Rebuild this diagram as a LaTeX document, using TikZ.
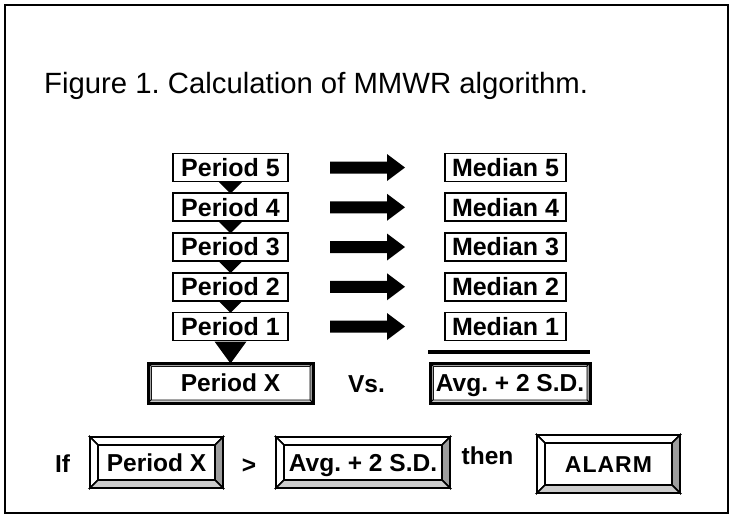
\documentclass[tikz,border=0pt]{standalone}
\usepackage{fontspec}
\setmainfont{Liberation Sans}
\usetikzlibrary{calc}
\definecolor{bevdark}{gray}{0.62}
\definecolor{bevlight}{gray}{0.80}
\frenchspacing
\tikzset{
  lbl/.style={font=\bfseries\fontsize{24.5}{28}\selectfont, inner sep=0pt, outer sep=0pt},
  plainbox/.style={draw, line width=1.8pt, fill=white, font=\bfseries\fontsize{25}{28}\selectfont,
    inner sep=0pt, outer sep=0pt, text height=17.5pt, text depth=0pt},
  bevtext/.style={draw, fill=white, font=\bfseries\fontsize{24.5}{28}\selectfont,
    inner sep=0pt, outer sep=0pt, text height=17.5pt, text depth=0pt},
  blk/.style={fill=black, draw=none},
}
% #1 name, #2 centre, #3 inner width, #4 inner height, #5 bevel, #6 inner line width, #7 outer line width, #8 text
\newcommand\bevbox[8]{%
  \node[bevtext, line width=#6, minimum width=#3, minimum height=#4] (#1) at #2 {#8};
  \coordinate (#1-a) at ($(#1.north west)+(-#5,-#5)$);
  \coordinate (#1-b) at ($(#1.north east)+(#5,-#5)$);
  \coordinate (#1-c) at ($(#1.south east)+(#5,#5)$);
  \coordinate (#1-d) at ($(#1.south west)+(-#5,#5)$);
  \filldraw[fill=white, line width=#6] (#1-a) -- (#1-b) -- (#1.north east) -- (#1.north west) -- cycle;
  \filldraw[fill=white, line width=#6] (#1-a) -- (#1.north west) -- (#1.south west) -- (#1-d) -- cycle;
  \filldraw[fill=bevdark, line width=#6] (#1-b) -- (#1-c) -- (#1.south east) -- (#1.north east) -- cycle;
  \filldraw[fill=bevlight, line width=#6] (#1.south west) -- (#1.south east) -- (#1-c) -- (#1-d) -- cycle;
  \draw[line width=#7] (#1-a) rectangle (#1-c);
}
\begin{document}
\begin{tikzpicture}[x=1pt,y=-1pt]
\useasboundingbox (0,0) rectangle (732,517);
\draw[line width=2pt] (4.5,4.5) rectangle (728,513);
\node[anchor=base west, font=\fontsize{29.3}{34}\selectfont, inner sep=0pt] (title) at (44,93)
  {Figure 1. Calculation of MMWR algorithm.};

% period and median boxes
\foreach \k/\i in {5/0,4/1,3/2,2/3,1/4}{
  \node[plainbox, minimum width=115, minimum height=28] (p\k) at (230.5,{167.5+39.75*\i}) {Period \k};
  \node[plainbox, minimum width=121, minimum height=28] (m\k) at (505.5,{167.5+39.75*\i}) {Median \k};
  \fill[blk] ($(p\k.east)+(42,-6)$) -- ++(57,0) -- ++(0,-7.5) -- ++(18,13.5) -- ++(-18,13.5)
     -- ++(0,-7.5) -- ++(-57,0) -- cycle;
}
% small triangles
\foreach \k in {5,4,3,2}{
  \fill[blk] ($(p\k.south)+(-12,0)$) -- ++(24,0) -- ++(-12,12) -- cycle;
}
% big triangle
\fill[blk] ($(p1.south)+(-16,1)$) -- ++(32,0) -- ++(-16,22) -- cycle;

% rule under medians
\coordinate (ruleL) at (428,352);
\coordinate (ruleR) at (590,352);
\draw[line width=3.5pt] (ruleL) -- (ruleR);

% middle row
\bevbox{px}{(230.5,383)}{159}{34}{3}{0.8pt}{3pt}{Period X}
\node[lbl, anchor=base] (vs) at (366.5,392) {Vs.};
\bevbox{avg}{(510,383)}{154}{34}{3}{0.8pt}{3pt}{Avg. + 2 S.D.}

% bottom row
\node[lbl, anchor=base] (if) at (62.5,472) {If};
\bevbox{bpx}{(156.5,462.5)}{117}{35}{8}{1.6pt}{2pt}{Period X}
\node[lbl, anchor=base] (gt) at (249,473) {>};
\bevbox{bavg}{(363,462.5)}{158}{35}{8}{1.6pt}{2pt}{Avg. + 2 S.D.}
\node[lbl, anchor=base] (then) at (487.5,464) {then};
\bevbox{alarm}{(608.5,464)}{127}{42}{8}{1.6pt}{2pt}{\fontsize{23}{28}\selectfont A\kern1pt L\kern1pt A\kern1pt R\kern1pt M}
\end{tikzpicture}
\end{document}
